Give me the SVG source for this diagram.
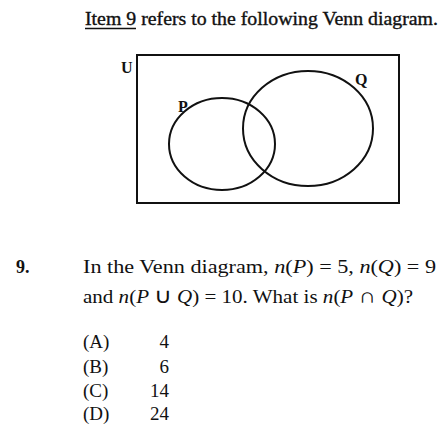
<svg xmlns="http://www.w3.org/2000/svg" width="444" height="424" viewBox="0 0 444 424">
<style>
.t{font-family:"Liberation Serif","Times New Roman",serif;font-size:18px;fill:#111}
.b{font-family:"Liberation Serif","Times New Roman",serif;font-size:16px;font-weight:bold;fill:#111}
.s{fill:none;stroke:#111;stroke-width:2}
.o{font-family:"Liberation Serif","Times New Roman",serif;font-size:19px;fill:#111}
</style>
<rect width="444" height="424" fill="#fff"/>
<text class="t" x="85" y="25" textLength="353" lengthAdjust="spacingAndGlyphs" stroke="#111" stroke-width="0.35">Item 9 refers to the following Venn diagram.</text>
<line x1="85" y1="28.5" x2="136" y2="28.5" stroke="#111" stroke-width="1.5"/>
<g id="universe"><rect class="s" x="137" y="55" width="262" height="148"/><text class="b" x="121" y="73">U</text></g>
<g id="P"><ellipse class="s" cx="222" cy="144" rx="53" ry="46"/><text class="b" x="178" y="112">P</text></g>
<g id="Q"><ellipse class="s" cx="308" cy="128.5" rx="65" ry="57.5"/><text class="b" x="355" y="85">Q</text></g>
<text class="b" x="16" y="273" style="font-size:18px">9.</text>
<text class="t" x="83" y="273" textLength="353" lengthAdjust="spacingAndGlyphs">In the Venn diagram, <tspan font-style="italic">n</tspan>(<tspan font-style="italic">P</tspan>) = 5, <tspan font-style="italic">n</tspan>(<tspan font-style="italic">Q</tspan>) = 9</text>
<text class="t" x="83" y="303" textLength="330" lengthAdjust="spacingAndGlyphs">and <tspan font-style="italic">n</tspan>(<tspan font-style="italic">P</tspan> <tspan font-size="21">∪</tspan> <tspan font-style="italic">Q</tspan>) = 10. What is <tspan font-style="italic">n</tspan>(<tspan font-style="italic">P</tspan> <tspan font-size="21">∩</tspan> <tspan font-style="italic">Q</tspan>)?</text>
<text class="o" x="83" y="348">(A)</text><text class="o" x="169" y="348" text-anchor="end">4</text>
<text class="o" x="83" y="373">(B)</text><text class="o" x="169" y="373" text-anchor="end">6</text>
<text class="o" x="83" y="397">(C)</text><text class="o" x="169" y="397" text-anchor="end">14</text>
<text class="o" x="83" y="420">(D)</text><text class="o" x="169" y="420" text-anchor="end">24</text>
</svg>
